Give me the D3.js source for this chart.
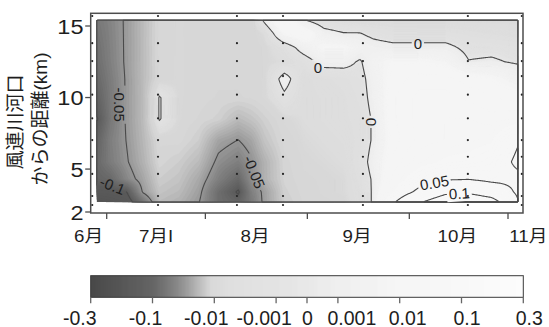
<!DOCTYPE html>
<html>
<head>
<meta charset="utf-8">
<script src="https://cdn.jsdelivr.net/npm/d3@7"></script>
<style>
  body { margin: 0; background: #fff; }
  svg { display: block; }
  text { font-family: "Liberation Sans", Arial, "Noto Sans CJK JP", sans-serif; fill: #1e1e1e; }
</style>
</head>
<body>
<div id="chart"></div>
<script>
// grid nodes of the interpolated field: days since 1 June, km from river mouth
const gridDays = [-3, 1, 6, 11, 16, 22, 28, 34, 40, 44, 48, 54, 60, 66, 72, 77, 81, 87, 95, 103, 110, 117, 125];
const gridKm = [15.4, 14.5, 13.5, 12.5, 11.3, 10, 8.5, 7, 5.5, 4.3, 3.4, 2.7];

// field values, one row per km node
const row154 = [-0.072, -0.062, -0.047, -0.03, -0.012, -0.01, -0.012, -0.013, -0.013, -0.012, 0.002, 0.02, 0.0005, -0.005, -0.007, -0.008, -0.008, -0.008, -0.008, -0.008, -0.009, -0.009, -0.009];
const row145 = [-0.075, -0.063, -0.047, -0.03, -0.012, -0.01, -0.012, -0.013, -0.013, -0.012, -0.008, 0.01, 0.015, 0.003, 0.0003, 0.0002, -0.002, -0.004, -0.004, -0.004, -0.005, -0.006, -0.007];
const row135 = [-0.078, -0.064, -0.047, -0.03, -0.012, -0.01, -0.012, -0.013, -0.013, -0.012, -0.01, -0.005, 0.004, 0.01, 0.01, 0.005, 0.003, 0.002, 0.002, 0.002, -0.002, -0.002, -0.003];
const row125 = [-0.08, -0.065, -0.047, -0.03, -0.012, -0.01, -0.012, -0.013, -0.013, -0.012, -0.01, -0.008, -0.004, 0.003, 0.003, -0.001, 0.006, 0.01, 0.01, 0.008, 0.0003, 0.001, -0.001];
const row113 = [-0.085, -0.068, -0.048, -0.03, -0.012, -0.01, -0.012, -0.013, -0.013, -0.012, -0.01, 0.004, -0.008, -0.006, -0.005, -0.003, 0.004, 0.012, 0.015, 0.015, 0.012, 0.01, 0.006];
const row100 = [-0.092, -0.07, -0.048, -0.03, 0.0009, -0.01, -0.012, -0.014, -0.014, -0.013, -0.01, -0.002, -0.008, -0.007, -0.006, -0.004, 0.003, 0.013, 0.018, 0.018, 0.016, 0.014, 0.012];
const row085 = [-0.102, -0.072, -0.048, -0.03, 0.0009, -0.01, -0.014, -0.018, -0.0305, -0.025, -0.018, -0.01, -0.008, -0.007, -0.006, -0.005, 0.001, 0.013, 0.018, 0.02, 0.02, 0.018, 0.02];
const row070 = [-0.09, -0.066, -0.0495, -0.032, -0.013, -0.012, -0.02, -0.043, -0.0505, -0.042, -0.025, -0.012, -0.009, -0.008, -0.007, -0.005, 0.001, 0.012, 0.018, 0.02, 0.022, 0.025, 0.048];
const row055 = [-0.085, -0.068, -0.052, -0.035, -0.015, -0.02, -0.03, -0.055, -0.065, -0.052, -0.035, -0.015, -0.01, -0.009, -0.008, -0.004, 0.003, 0.014, 0.022, 0.028, 0.03, 0.035, 0.055];
const row043 = [-0.09, -0.085, -0.06, -0.042, -0.02, -0.025, -0.04, -0.065, -0.085, -0.055, -0.035, -0.016, -0.011, -0.01, -0.009, -0.005, 0.001, 0.018, 0.035, 0.047, 0.049, 0.042, 0.044];
const row034 = [-0.108, -0.105, -0.101, -0.048, -0.025, -0.03, -0.045, -0.08, -0.103, -0.065, -0.045, -0.018, -0.012, -0.01, -0.009, -0.006, 0.001, 0.025, 0.058, 0.09, 0.092, 0.075, 0.045];
const row027 = [-0.14, -0.13, -0.115, -0.075, -0.03, -0.035, -0.049, -0.08, -0.09, -0.07, -0.045, -0.02, -0.013, -0.011, -0.01, -0.006, 0.001, 0.045, 0.095, 0.13, 0.14, 0.12, 0.052];
const field = [row154, row145, row135, row125, row113, row100, row085, row070, row055, row043, row034, row027];

// survey stations (dots)
const surveyDays = [-4.4, 15.6, 39.6, 53.6, 77.9, 109.8, 126.2];
const stationKm = [15.7, 13.8, 12.55, 11.5, 10.2, 8.55, 7.03, 5.86, 4.66, 3.12, 2.49];

// contour levels and labels
const contourLevels = [-0.1, -0.05, 0, 0.05, 0.1];
const contourLabels = [
    { day: 4.0, km: 9.5, text: "-0.05", angle: 90 },
    { day: 1.8, km: 3.85, text: "-0.1", angle: 22 },
    { day: 44.9, km: 4.8, text: "-0.05", angle: 68 },
    { day: 64.2, km: 12.1, text: "0", angle: 0 },
    { day: 94.6, km: 13.8, text: "0", angle: 0 },
    { day: 80.6, km: 8.3, text: "0", angle: 90 },
    { day: 99.6, km: 4.05, text: "0.05", angle: -10 },
    { day: 107.2, km: 3.3, text: "0.1", angle: -4 }
];

// axes
const yTicks = [2, 5, 10, 15];
const monthTickDays = [0, 30, 61, 92, 122];
const monthLabels = ["6月", "7月I", "8月", "9月", "10月", "11月"];
const monthLabelDays = [-5.5, 15.0, 45.1, 76.1, 106.6, 128.2];
const titleLines = ["風連川河口", "からの距離(km)"];

// colour bar
const barTicks = [-0.3, -0.1, -0.01, -0.001, 0, 0.001, 0.01, 0.1, 0.3];
const barTickLabels = ["-0.3", "-0.1", "-0.01", "-0.001", "0", "0.001", "0.01", "0.1", "0.3"];

const width = 549, height = 327;
const svg = d3.select("#chart").append("svg")
    .attr("width", width)
    .attr("height", height);

const x = d3.scaleLinear().domain([0, 122]).range([106.7, 508]);
const y = d3.scaleLinear().domain([2, 15]).range([212, 26]);

// value -> position on the colour bar (0..1), piecewise like the bar
const barPos = d3.scaleLinear()
    .domain(barTicks)
    .range([0, 2, 4, 6, 7, 8, 10, 12, 14].map(v => v / 14))
    .clamp(true);
const shade = d3.scaleLinear()
    .domain([0, 0.143, 0.175, 0.2, 0.222, 0.248, 0.278, 0.32, 0.43, 0.5, 0.57, 0.714, 0.857, 1])
    .range([60, 90, 110, 128, 150, 180, 214, 221, 226, 231, 238, 245, 248, 252])
    .clamp(true);
const grayAt = t => { const g = Math.round(shade(t)); return `rgb(${g},${g},${g})`; };

// bilinear sample of the field
function sample(d, k) {
    let i = d3.bisectRight(gridDays, d) - 1;
    i = Math.max(0, Math.min(gridDays.length - 2, i));
    let j = 0;
    while (j < gridKm.length - 2 && gridKm[j + 1] > k) j++;
    const tx = Math.max(0, Math.min(1, (d - gridDays[i]) / (gridDays[i + 1] - gridDays[i])));
    const ty = Math.max(0, Math.min(1, (gridKm[j] - k) / (gridKm[j] - gridKm[j + 1])));
    const top = field[j][i] * (1 - tx) + field[j][i + 1] * tx;
    const bot = field[j + 1][i] * (1 - tx) + field[j + 1][i + 1] * tx;
    return top * (1 - ty) + bot * ty;
}

const fx0 = x(gridDays[0]), fx1 = x(gridDays[gridDays.length - 1]);
const fy0 = y(gridKm[0]), fy1 = y(gridKm[gridKm.length - 1]);
const nx = Math.round(fx1 - fx0), ny = Math.round(fy1 - fy0);
const values = new Array(nx * ny);
for (let j = 0; j < ny; j++) {
    const k = y.invert(fy0 + (j + 0.5) * (fy1 - fy0) / ny);
    for (let i = 0; i < nx; i++) {
        const d = x.invert(fx0 + (i + 0.5) * (fx1 - fx0) / nx);
        values[j * nx + i] = sample(d, k);
    }
}

const path = d3.geoPath();
const gridTransform = `translate(${fx0},${fy0}) scale(${(fx1 - fx0) / nx},${(fy1 - fy0) / ny})`;
const fieldG = svg.append("g").attr("transform", gridTransform);

// filled bands
const nBands = 200;
const vMin = d3.min(values), vMax = d3.max(values);
fieldG.append("rect")
    .attr("width", nx).attr("height", ny)
    .attr("fill", grayAt(barPos(vMin)));
const bandLevels = d3.range(1, nBands).map(i => ({ v: barPos.invert(i / nBands), t: (i + 0.5) / nBands }))
    .filter(b => b.v > vMin && b.v < vMax);
const bands = d3.contours().size([nx, ny]).thresholds(bandLevels.map(b => b.v))(values);
fieldG.selectAll("path.band")
    .data(bands)
    .join("path")
    .attr("class", "band")
    .attr("d", path)
    .attr("fill", (c, i) => grayAt(bandLevels[i].t))
    .attr("stroke", (c, i) => grayAt(bandLevels[i].t))
    .attr("stroke-width", 0.3);

// contour lines, with gaps under the labels
const mask = svg.append("defs").append("mask")
    .attr("id", "labelGaps")
    .attr("maskUnits", "userSpaceOnUse")
    .attr("x", 0).attr("y", 0).attr("width", width).attr("height", height);
mask.append("rect").attr("width", width).attr("height", height).attr("fill", "white");

const lineOuter = svg.append("g").attr("mask", "url(#labelGaps)");
const lineG = lineOuter.append("g").attr("transform", gridTransform);
lineG.selectAll("path")
    .data(d3.contours().size([nx, ny]).thresholds(contourLevels)(values))
    .join("path")
    .attr("d", path)
    .attr("fill", "none")
    .attr("stroke", "#4a4a4a")
    .attr("stroke-width", 1.1)
    .attr("vector-effect", "non-scaling-stroke");

// contour labels
const labelG = svg.append("g");
contourLabels.forEach(l => {
    const t = labelG.append("text")
        .attr("transform", `translate(${x(l.day)},${y(l.km)}) rotate(${l.angle})`)
        .attr("text-anchor", "middle")
        .attr("dominant-baseline", "central")
        .attr("font-size", "15px")
        .attr("fill", "#2a2a2a")
        .text(l.text);
    const w = t.node().getComputedTextLength() + 4;
    mask.append("rect")
        .attr("transform", `translate(${x(l.day)},${y(l.km)}) rotate(${l.angle})`)
        .attr("x", -w / 2).attr("y", -8)
        .attr("width", w).attr("height", 16)
        .attr("fill", "black");
});

// survey dots
surveyDays.forEach(d => {
    stationKm.forEach(k => {
        svg.append("circle")
            .attr("cx", x(d))
            .attr("cy", y(k))
            .attr("r", 1.1)
            .attr("fill", "#222");
    });
});

// frame
const frameL = 90.7, frameR = 523, frameT = 13.3, frameB = 213;
svg.append("rect")
    .attr("x", frameL).attr("y", frameT)
    .attr("width", frameR - frameL).attr("height", frameB - frameT)
    .attr("fill", "none")
    .attr("stroke", "#4d4d4d")
    .attr("stroke-width", 1.5);

// y axis
yTicks.forEach(t => {
    svg.append("line")
        .attr("x1", frameL - 5.5).attr("x2", frameL)
        .attr("y1", y(t)).attr("y2", y(t))
        .attr("stroke", "#4d4d4d").attr("stroke-width", 1.3);
    svg.append("text")
        .attr("transform", `translate(83.5,${y(t) + 7.5}) scale(1.12,1)`)
        .attr("text-anchor", "end")
        .attr("font-size", "21px")
        .text(t);
});

// x axis
monthTickDays.forEach(d => {
    svg.append("line")
        .attr("x1", x(d)).attr("x2", x(d))
        .attr("y1", frameB).attr("y2", frameB + 6)
        .attr("stroke", "#4d4d4d").attr("stroke-width", 1.3);
});
monthLabels.forEach((m, i) => {
    svg.append("text")
        .attr("transform", `translate(${x(monthLabelDays[i])},241.5) scale(1.1,1)`)
        .attr("text-anchor", "middle")
        .attr("font-size", "17px")
        .text(m);
});

// y title
titleLines.forEach((s, i) => {
    svg.append("text")
        .attr("transform", `translate(${15 + i * 25},${122 - i * 3}) rotate(-90)`)
        .attr("text-anchor", "middle")
        .attr("dominant-baseline", "central")
        .attr("font-size", "19px")
        .text(s);
});

// colour bar
const barL = 90.7, barR = 523.3, barT = 275.7, barB = 297.3;
const barX = d3.scaleLinear().domain([0, 1]).range([barL, barR]);
const barG = svg.append("g");
d3.range(0, Math.ceil(barR - barL)).forEach(i => {
    barG.append("rect")
        .attr("x", barL + i).attr("y", barT)
        .attr("width", 1.2).attr("height", barB - barT)
        .attr("fill", grayAt((i + 0.5) / (barR - barL)));
});
svg.append("rect")
    .attr("x", barL).attr("y", barT)
    .attr("width", barR - barL).attr("height", barB - barT)
    .attr("fill", "none")
    .attr("stroke", "#3a3a3a")
    .attr("stroke-width", 1);

const barLabelNudge = [-11, -7, -8, -12, 0.5, 14, 8, 5.5, 6];
barTicks.forEach((v, i) => {
    const px = barX(barPos(v));
    svg.append("line")
        .attr("x1", px).attr("x2", px)
        .attr("y1", barB).attr("y2", barB + 6)
        .attr("stroke", "#666").attr("stroke-width", 1.3);
    svg.append("text")
        .attr("x", px + barLabelNudge[i])
        .attr("y", 324.5)
        .attr("text-anchor", "middle")
        .attr("font-size", "19.5px")
        .text(barTickLabels[i]);
});
</script>
</body>
</html>
